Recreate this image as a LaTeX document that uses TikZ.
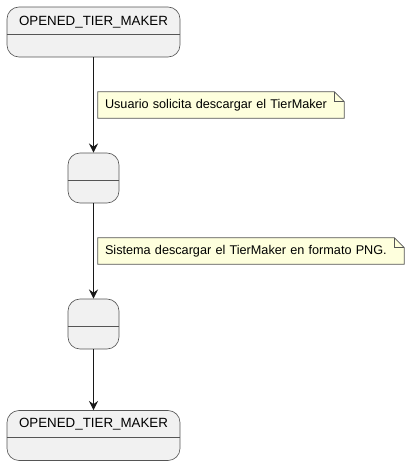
\documentclass[tikz,border=0pt]{standalone}
\usepackage{fontspec}
\setmainfont{Liberation Sans}
\usetikzlibrary{arrows.meta}
\definecolor{statefill}{HTML}{F1F1F1}
\definecolor{stateline}{HTML}{181818}
\definecolor{boxline}{HTML}{555555}
\definecolor{notefill}{HTML}{FEFFDD}

\tikzset{
  state/.style={draw=boxline, fill=statefill, line width=0.5pt, rounded corners=9pt,
    minimum width=129.75pt, minimum height=37.5pt, inner sep=0pt},
  smallstate/.style={state, minimum width=38.25pt},
  statename/.style={font=\fontsize{10}{12}\selectfont, inner sep=0pt},
  divider/.style={draw=boxline, line width=0.5pt},
  note/.style={inner xsep=5.25pt, inner ysep=0pt, minimum height=19.5pt, align=left,
    font=\fontsize{9.5}{11}\selectfont},
  notebox/.style={draw=boxline, fill=notefill, line width=0.5pt},
  trans/.style={-{Stealth[length=7pt, width=7pt, inset=2.5pt]}, line width=0.75pt, color=stateline}
}

\begin{document}
\begin{tikzpicture}[x=0.75pt,y=-0.75pt]

\useasboundingbox (0,0) rectangle (410,465);

%states
\node[state] at (93.5, 32)(s0){};
\node[statename] at (93.5, 22)(s0name){OPENED\_TIER\_MAKER};
\draw[divider] (s0.west |- 0,34) -- (s0.east |- 0,34);

\node[smallstate] at (93.5, 178)(s1){};
\draw[divider] (s1.west |- 0,180) -- (s1.east |- 0,180);

\node[smallstate] at (93.5, 324)(s2){};
\draw[divider] (s2.west |- 0,326) -- (s2.east |- 0,326);

\node[state] at (93.5, 435.5)(s3){};
\node[statename] at (93.5, 424)(s3name){OPENED\_TIER\_MAKER};
\draw[divider] (s3.west |- 0,437) -- (s3.east |- 0,437);

%transitions
\draw[trans] (s0) -- (s1);
\draw[trans] (s1) -- (s2);
\draw[trans] (s2) -- (s3);

%notes
\node[note, text width=174pt] at (221, 105)(n1){};
\filldraw[notebox] (n1.north west) -- ([xshift=-7.5pt]n1.north east) -- ([yshift=-7.5pt]n1.north east)
  -- (n1.south east) -- (n1.south west) -- cycle;
\draw[notebox, fill=none] ([xshift=-7.5pt]n1.north east) -- ([xshift=-7.5pt,yshift=-7.5pt]n1.north east)
  -- ([yshift=-7.5pt]n1.north east);
\node[note, text width=174pt] at (n1.center)(n1text){Usuario solicita descargar el TierMaker};

\node[note, text width=219pt] at (251, 251)(n2){};
\filldraw[notebox] (n2.north west) -- ([xshift=-7.5pt]n2.north east) -- ([yshift=-7.5pt]n2.north east)
  -- (n2.south east) -- (n2.south west) -- cycle;
\draw[notebox, fill=none] ([xshift=-7.5pt]n2.north east) -- ([xshift=-7.5pt,yshift=-7.5pt]n2.north east)
  -- ([yshift=-7.5pt]n2.north east);
\node[note, text width=219pt] at (n2.center)(n2text){Sistema descargar el TierMaker en formato PNG.};

\end{tikzpicture}
\end{document}
